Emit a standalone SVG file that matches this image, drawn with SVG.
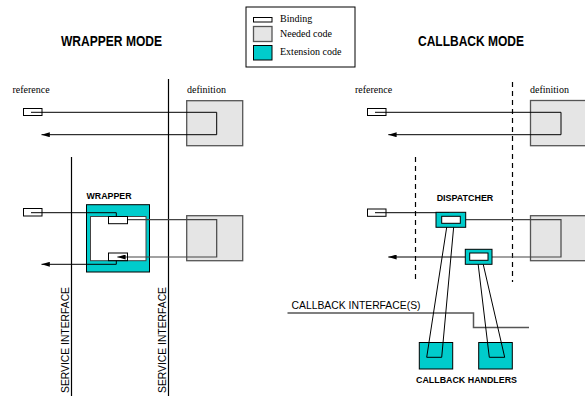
<svg xmlns="http://www.w3.org/2000/svg" width="585" height="396" viewBox="0 0 585 396">
<defs>
<style>
.serif{font-family:"Liberation Serif","Times New Roman",serif;font-size:10px;fill:#000}
.bold{font-family:"Liberation Sans",Arial,sans-serif;font-weight:bold;fill:#000}
.sans{font-family:"Liberation Sans",Arial,sans-serif;fill:#000}
.bind{fill:#fff;stroke:#000;stroke-width:1}
.need{fill:#e5e5e5;stroke:#555;stroke-width:1.3}
.ext{fill:#00cccc;stroke:#000;stroke-width:1}
.ln{fill:none;stroke:#000;stroke-width:1}
.gl{fill:none;stroke:#444;stroke-width:1.2}
.sep{fill:none;stroke:#000;stroke-width:1.2}
.dash{fill:none;stroke:#000;stroke-width:1.2;stroke-dasharray:5,4}
.ifc{fill:none;stroke:#555;stroke-width:1.5}
</style>
<marker id="arr" viewBox="0 0 10 6" refX="10" refY="3" markerWidth="9" markerHeight="5" markerUnits="userSpaceOnUse" orient="auto">
<path d="M0,0 L10,3 L0,6 z" fill="#000"/>
</marker>
</defs>
<rect width="585" height="396" fill="#fff"/>

<g id="legend">
<rect x="246" y="7" width="109" height="60" fill="#fff" stroke="#000" stroke-width="1"/>
<rect class="bind" x="253.5" y="17.5" width="18.5" height="4.5"/>
<rect class="need" x="253.5" y="26.5" width="18.5" height="15" stroke="#444"/>
<rect class="ext" x="253.5" y="45.5" width="18.5" height="14.5" stroke="#333"/>
<text class="serif" x="280" y="22" font-size="10.3">Binding</text>
<text class="serif" x="280" y="37" font-size="10.3">Needed code</text>
<text class="serif" x="280" y="55" font-size="10.3">Extension code</text>
</g>

<g id="titles">
<text class="bold" x="61" y="46" font-size="14" textLength="101" lengthAdjust="spacingAndGlyphs">WRAPPER MODE</text>
<text class="bold" x="418" y="46" font-size="14" textLength="106" lengthAdjust="spacingAndGlyphs">CALLBACK MODE</text>
</g>

<g id="separators">
<line class="sep" x1="168.5" y1="79" x2="168.5" y2="396"/>
<line class="sep" x1="71.5" y1="157" x2="71.5" y2="396"/>
<line class="dash" x1="512.5" y1="82" x2="512.5" y2="282"/>
<line class="dash" x1="415.5" y1="157" x2="415.5" y2="282"/>
<text class="sans" font-size="11" transform="translate(68.5,393) rotate(-90)" textLength="106" lengthAdjust="spacingAndGlyphs">SERVICE INTERFACE</text>
<text class="sans" font-size="11" transform="translate(165.5,393) rotate(-90)" textLength="106" lengthAdjust="spacingAndGlyphs">SERVICE INTERFACE</text>
</g>

<g id="callback-interface">
<path class="ifc" d="M287.5,313 H473.5 V327.5 H529"/>
<text class="sans" x="291.5" y="309" font-size="10.5" textLength="129" lengthAdjust="spacingAndGlyphs">CALLBACK INTERFACE(S)</text>
</g>

<g id="w-needed-top">
<rect class="need" x="186.7" y="100.7" width="56" height="45"/>
<text class="serif" x="187" y="93">definition</text>
</g>
<g id="w-ref-top">
<rect class="bind" x="23.5" y="108.5" width="18.5" height="7"/>
<text class="serif" x="12.5" y="93">reference</text>
</g>

<g id="w-needed-2">
<rect class="need" x="186.7" y="215.7" width="56" height="45"/>
</g>
<g id="wrapper">
<rect class="ext" x="86.5" y="204.7" width="63" height="67.3"/>
<rect x="90.5" y="216.5" width="55.5" height="44.2" fill="#fff" stroke="#444" stroke-width="1"/>
<text class="bold" x="86.5" y="199" font-size="9" textLength="45" lengthAdjust="spacingAndGlyphs">WRAPPER</text>
</g>
<g id="w-ref-2">
<rect class="bind" x="23.5" y="208.5" width="18.5" height="7.5"/>
</g>

<g id="c-needed-top">
<rect class="need" x="530.5" y="100.5" width="60" height="45.2"/>
<text class="serif" x="530" y="93">definition</text>
</g>
<g id="c-ref-top">
<rect class="bind" x="367.5" y="108.5" width="18.5" height="7"/>
<text class="serif" x="355" y="93">reference</text>
</g>

<g id="c-needed-2">
<rect class="need" x="530.5" y="215.7" width="60" height="45"/>
</g>
<g id="c-ref-2">
<rect class="bind" x="367.5" y="209" width="18.5" height="7.3"/>
</g>

<g id="connectors">
<path class="ln" d="M31,112.3 H216.7 V134.7 H41.5" marker-end="url(#arr)"/>
<path class="ln" d="M375,112.3 H561 V134.7 H388.3" marker-end="url(#arr)"/>
<path class="ln" d="M31,212.7 H116.3 V216.5"/>
<path class="gl" d="M116.3,219.7 H216.7 V257 H117.3" marker-end="url(#arr)"/>
<path class="ln" d="M116.3,260.7 V264.3 H41.5" marker-end="url(#arr)"/>
<path class="ln" d="M375,212.7 H449.3"/>
<path class="gl" d="M465.7,219.7 H561 V257 H492"/>
<path class="ln" d="M465.5,257 H388.3" marker-end="url(#arr)"/>
<path class="ln" d="M447.3,223.3 L426.7,357.3 H441.7 L454,223.3"/>
<path class="ln" d="M477.7,260.3 L489.3,357.3 H504.7 L482.3,260.3"/>
</g>

<g id="w-bind-in">
<rect class="bind" x="108.5" y="216.5" width="19" height="7.2"/>
</g>
<g id="w-bind-out">
<rect x="108.5" y="253" width="19" height="7.7" fill="none" stroke="#000" stroke-width="1"/>
</g>

<g id="dispatcher">
<rect class="ext" x="436" y="212.3" width="29.7" height="15"/>
<rect class="bind" x="441.7" y="216.3" width="18.6" height="7"/>
<text class="bold" x="436.7" y="200.7" font-size="9" textLength="56.6" lengthAdjust="spacingAndGlyphs">DISPATCHER</text>
</g>
<g id="dispatcher-2">
<rect class="ext" x="465.3" y="249.3" width="26.7" height="15"/>
<rect class="bind" x="469.7" y="253" width="18.3" height="7.3"/>
</g>

<g id="handler-1">
<rect class="ext" x="419.3" y="342.5" width="33.4" height="26.5"/>
</g>
<g id="handler-2">
<rect class="ext" x="478.7" y="342.5" width="33.6" height="26.5"/>
</g>
<g id="handler-lines">
<path class="ln" d="M429,342.5 L426.7,357.3 H441.7 L443.06,342.5"/>
<path class="ln" d="M487.53,342.5 L489.3,357.3 H504.7 L501.28,342.5"/>
</g>
<text class="bold" x="416" y="383.3" font-size="9" textLength="101" lengthAdjust="spacingAndGlyphs">CALLBACK HANDLERS</text>
</svg>
